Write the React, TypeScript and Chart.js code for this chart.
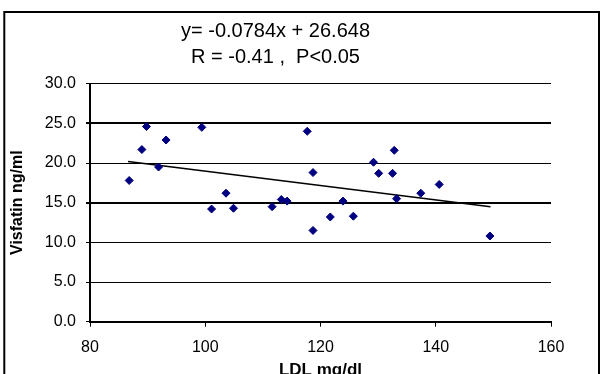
import React, { useEffect, useRef } from "react";
import { Chart, registerables } from "chart.js";

Chart.register(...registerables);

const titleLines = ["y= -0.0784x + 26.648", "R = -0.41 ,  P<0.05"];
const xTitle = "LDL mg/dl";
const yTitle = "Visfatin ng/ml";

const ldl = [86.8, 89.0, 89.8, 91.9, 93.2, 99.4, 101.1, 103.6, 104.9, 111.6, 113.2, 114.2, 117.7, 118.7, 118.7, 121.7, 123.9, 125.7, 129.2, 130.1, 132.5, 132.8, 133.2, 137.4, 140.6, 149.4];
const visfatin = [17.8, 21.7, 24.6, 19.5, 22.9, 24.5, 14.2, 16.2, 14.3, 14.5, 15.4, 15.2, 24.0, 18.8, 11.5, 13.2, 15.2, 13.3, 20.1, 18.7, 18.7, 21.6, 15.5, 16.2, 17.3, 10.8];

const trendX = [86.6, 149.5];
const trendY = [20.2, 14.5];

const xMin = 80, xMax = 160, xStep = 20;
const yMin = 0, yMax = 30, yStep = 5;

const FONT = 'Arial, "Liberation Sans", sans-serif';

const frame = {
  id: "frame",
  beforeDraw(chart: any) {
    const { ctx, width, height } = chart;
    ctx.save();
    ctx.fillStyle = "#fff";
    ctx.fillRect(0, 0, width, height);
    ctx.strokeStyle = "#000";
    ctx.lineWidth = 2;
    ctx.strokeRect(4.3, 12, 594.7, height + 20);
    ctx.restore();
  },
};

export default function App() {
  const ref = useRef<HTMLCanvasElement>(null);
  useEffect(() => {
    if (!ref.current) return;
    const chart = new Chart(ref.current, {
      type: "scatter",
      data: {
        datasets: [
          {
            label: "Visfatin",
            data: ldl.map((x, i) => ({ x, y: visfatin[i] })),
            pointStyle: "rectRot",
            pointRadius: 4,
            pointBackgroundColor: "#000080",
            pointBorderColor: "#000080",
            pointBorderWidth: 1,
          },
          {
            label: "Trend",
            data: trendX.map((x, i) => ({ x, y: trendY[i] })),
            showLine: true,
            pointRadius: 0,
            borderColor: "#000",
            borderWidth: 1.5,
          },
        ],
      },
      options: {
        responsive: false,
        animation: false,
        layout: { padding: { left: 0, right: 49, top: 0, bottom: 0 } },
        plugins: {
          legend: { display: false },
          tooltip: { enabled: false },
          title: {
            display: true,
            text: titleLines,
            color: "#000",
            font: { family: FONT, size: 20, weight: "normal", lineHeight: 1.3 },
            padding: { top: 18, bottom: 13.7 },
          },
        },
        scales: {
          x: {
            type: "linear",
            min: xMin,
            max: xMax,
            afterFit: (s: any) => { s.height = 62.3; },
            ticks: { stepSize: xStep, color: "#000", font: { family: FONT, size: 16 }, padding: 11, maxRotation: 0 },
            grid: { drawOnChartArea: false, drawTicks: true, tickLength: 5, color: "#000", lineWidth: 1 },
            border: { display: true, color: "#000", width: 2 },
            title: { display: true, text: xTitle, color: "#000", font: { family: FONT, size: 17, weight: "bold" }, padding: { top: 0, bottom: 3 } },
          },
          y: {
            type: "linear",
            min: yMin,
            max: yMax,
            afterFit: (s: any) => { s.width = 90; },
            ticks: { stepSize: yStep, color: "#000", font: { family: FONT, size: 16 }, padding: 10, callback: (v: any) => Number(v).toFixed(1) },
            grid: {
              drawOnChartArea: true,
              drawTicks: true,
              tickLength: 4,
              color: "#000",
              lineWidth: (c: any) => (c.tick && (c.tick.value === 25 || c.tick.value === 15) ? 2 : 1),
            },
            border: { display: true, color: "#000", width: 2 },
            title: { display: true, text: yTitle, color: "#000", font: { family: FONT, size: 16, weight: "bold" }, padding: { top: 8, bottom: 0 } },
          },
        },
      },
      plugins: [frame],
    });
    return () => chart.destroy();
  }, []);
  return (
    <div style={{ position: "fixed", left: 0, top: 0, width: 600, height: 374, overflow: "hidden", background: "#fff" }}>
      <canvas ref={ref} width={600} height={384} style={{ display: "block" }} />
    </div>
  );
}
